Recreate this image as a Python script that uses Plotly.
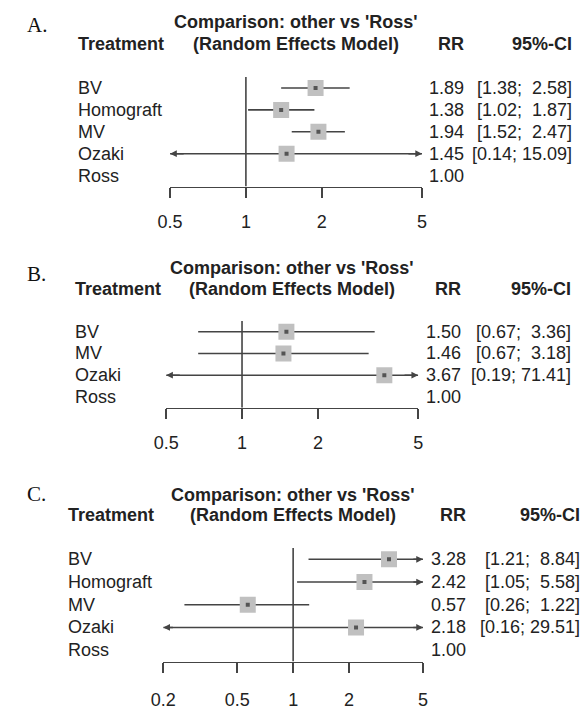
import math
import plotly.graph_objects as go

# ---------------- data ----------------
A_treat = ["BV", "Homograft", "MV", "Ozaki", "Ross"]
A_rr = [1.89, 1.38, 1.94, 1.45, 1.00]
A_lo = [1.38, 1.02, 1.52, 0.14, None]
A_hi = [2.58, 1.87, 2.47, 15.09, None]
A_ticks = [0.5, 1, 2, 5]

B_treat = ["BV", "MV", "Ozaki", "Ross"]
B_rr = [1.50, 1.46, 3.67, 1.00]
B_lo = [0.67, 0.67, 0.19, None]
B_hi = [3.36, 3.18, 71.41, None]
B_ticks = [0.5, 1, 2, 5]

C_treat = ["BV", "Homograft", "MV", "Ozaki", "Ross"]
C_rr = [3.28, 2.42, 0.57, 2.18, 1.00]
C_lo = [1.21, 1.05, 0.26, 0.16, None]
C_hi = [8.84, 5.58, 1.22, 29.51, None]
C_ticks = [0.2, 0.5, 1, 2, 5]

panel_letters = ["A.", "B.", "C."]
title1 = "Comparison: other vs 'Ross'"
title2 = "(Random Effects Model)"
hdr_treat = "Treatment"
hdr_rr = "RR"
hdr_ci = "95%-CI"

# ---------------- layout (pixels) ----------------
W, H = 587, 710
FONT = "Liberation Sans, Arial, Helvetica, sans-serif"
TXT = "#222222"
LINE = "#444444"
SQ = "#c0c0c0"

panels = [
    dict(treat=A_treat, rr=A_rr, lo=A_lo, hi=A_hi, ticks=A_ticks,
         x0=162, x1=422, ytop=78, ybot=189, letter_y=25, t1_y=22, t2_y=45,
         lab_x=65, rr_x=467, ci_x=579, standoff=8),
    dict(treat=B_treat, rr=B_rr, lo=B_lo, hi=B_hi, ticks=B_ticks,
         x0=158, x1=418, ytop=325, ybot=413, letter_y=278, t1_y=271, t2_y=293,
         lab_x=62, rr_x=464, ci_x=578, standoff=8),
    dict(treat=C_treat, rr=C_rr, lo=C_lo, hi=C_hi, ticks=C_ticks,
         x0=155, x1=423, ytop=555, ybot=670, letter_y=500, t1_y=501, t2_y=522,
         lab_x=55, rr_x=469, ci_x=587, standoff=11),
]


def px(x):
    return x / W


def py(y):
    return 1 - y / H


fig = go.Figure()
annotations = []
layout_axes = {}

for i, p in enumerate(panels):
    n = i + 1
    xs = "" if n == 1 else str(n)
    xname, yname = "x" + xs, "y" + xs
    nrow = len(p["treat"])
    ticks = p["ticks"]
    xmin, xmax = ticks[0], ticks[-1]
    yvals = [nrow - 1 - k for k in range(nrow)]

    # reference line at RR = 1
    fig.add_trace(go.Scatter(x=[1, 1], y=[-0.5, nrow - 0.5], mode="lines",
                             line=dict(color=LINE, width=1.6),
                             xaxis=xname, yaxis=yname, showlegend=False,
                             hoverinfo="skip"))

    # confidence interval lines, clipped to the axis range, with arrows
    lx, ly = [], []
    for k in range(nrow):
        lo, hi = p["lo"][k], p["hi"][k]
        if lo is None:
            continue
        a, b = max(lo, xmin), min(hi, xmax)
        lx += [a, b, None]
        ly += [yvals[k], yvals[k], None]
        for clipped, end in ((lo < xmin, xmin), (hi > xmax, xmax)):
            if clipped:
                le = math.log10(end)
                back = 0.06 if end == xmax else -0.06
                annotations.append(dict(
                    x=le, y=yvals[k], ax=le - back, ay=yvals[k],
                    xref=xname, yref=yname, axref=xname, ayref=yname,
                    text="", showarrow=True, arrowhead=2, arrowsize=0.9,
                    arrowwidth=1.5, arrowcolor=LINE, standoff=0))
    fig.add_trace(go.Scatter(x=lx, y=ly, mode="lines",
                             line=dict(color=LINE, width=1.6),
                             xaxis=xname, yaxis=yname, showlegend=False,
                             hoverinfo="skip"))

    # point estimates
    sx = [p["rr"][k] for k in range(nrow) if p["lo"][k] is not None]
    sy = [yvals[k] for k in range(nrow) if p["lo"][k] is not None]
    fig.add_trace(go.Scatter(x=sx, y=sy, mode="markers",
                             marker=dict(symbol="square", size=16, color=SQ,
                                         line=dict(width=0)),
                             xaxis=xname, yaxis=yname, showlegend=False,
                             hoverinfo="skip"))
    fig.add_trace(go.Scatter(x=sx, y=sy, mode="markers",
                             marker=dict(symbol="square", size=4,
                                         color="#555555",
                                         line=dict(width=0)),
                             xaxis=xname, yaxis=yname, showlegend=False,
                             hoverinfo="skip"))

    layout_axes["xaxis" + xs] = dict(
        type="log", domain=[px(p["x0"]), px(p["x1"])],
        range=[math.log10(xmin), math.log10(xmax)],
        anchor=yname, showline=True, linecolor=LINE, linewidth=1.6,
        ticks="outside", ticklen=10, tickwidth=1.6, tickcolor=LINE,
        tickvals=ticks, ticktext=[f"{t:g}" for t in ticks],
        ticklabelstandoff=p["standoff"],
        showgrid=False, zeroline=False, fixedrange=True,
        tickfont=dict(family=FONT, size=18, color=TXT))
    layout_axes["yaxis" + xs] = dict(
        domain=[py(p["ybot"]), py(p["ytop"])], range=[-0.5, nrow - 0.5],
        anchor=xname, visible=False, showgrid=False, zeroline=False,
        fixedrange=True)

    # text columns
    his = [f"{h:.2f}" for h in p["hi"] if h is not None]
    los = [f"{l:.2f}" for l in p["lo"] if l is not None]
    wh = max(len(s) for s in his)
    wl = max(len(s) for s in los)
    for k in range(nrow):
        annotations.append(dict(x=px(p["lab_x"]), y=yvals[k], xref="paper",
                                yref=yname, text=p["treat"][k], showarrow=False,
                                xanchor="left", yanchor="middle"))
        annotations.append(dict(x=px(p["rr_x"]), y=yvals[k], xref="paper",
                                yref=yname, text=f"{p['rr'][k]:.2f}",
                                showarrow=False, xanchor="right",
                                yanchor="middle"))
        if p["lo"][k] is not None:
            l = f"{p['lo'][k]:.2f}"
            h = f"{p['hi'][k]:.2f}"
            l = "\u00a0" * (wl - len(l)) + l
            h = "\u00a0" * (wh - len(h)) + h
            annotations.append(dict(x=px(p["ci_x"]), y=yvals[k], xref="paper",
                                    yref=yname, text=f"[{l};\u00a0{h}]",
                                    showarrow=False, xanchor="right",
                                    yanchor="middle"))

    # headers
    cx = px((p["x0"] + p["x1"]) / 2)
    bold = dict(family=FONT, size=18, color=TXT)
    annotations += [
        dict(x=px(12), y=py(p["letter_y"]), xref="paper", yref="paper",
             text=panel_letters[i], showarrow=False, xanchor="left",
             yanchor="middle",
             font=dict(family="Liberation Serif, Times New Roman, serif",
                       size=21, color="#111")),
        dict(x=cx, y=py(p["t1_y"]), xref="paper", yref="paper",
             text=f"<b>{title1}</b>", showarrow=False, xanchor="center",
             yanchor="middle", font=bold),
        dict(x=cx, y=py(p["t2_y"]), xref="paper", yref="paper",
             text=f"<b>{title2}</b>", showarrow=False, xanchor="center",
             yanchor="middle", font=bold),
        dict(x=px(p["lab_x"]), y=py(p["t2_y"]), xref="paper", yref="paper",
             text=f"<b>{hdr_treat}</b>", showarrow=False, xanchor="left",
             yanchor="middle", font=bold),
        dict(x=px(p["rr_x"]), y=py(p["t2_y"]), xref="paper", yref="paper",
             text=f"<b>{hdr_rr}</b>", showarrow=False, xanchor="right",
             yanchor="middle", font=bold),
        dict(x=px(p["ci_x"]), y=py(p["t2_y"]), xref="paper", yref="paper",
             text=f"<b>{hdr_ci}</b>", showarrow=False, xanchor="right",
             yanchor="middle", font=bold),
    ]

fig.update_layout(
    width=W, height=H, autosize=False,
    margin=dict(l=0, r=0, t=0, b=0),
    paper_bgcolor="white", plot_bgcolor="white",
    font=dict(family=FONT, size=18, color=TXT),
    showlegend=False,
    annotations=annotations,
    hovermode=False,
    **layout_axes,
)

fig.write_html(
    "out.html",
    config={"displayModeBar": False, "staticPlot": True},
    post_script=("document.body.style.margin='0';"
                 "document.body.style.padding='0';"
                 "document.body.style.overflow='hidden';"
                 "document.documentElement.style.overflow='hidden';"),
)
